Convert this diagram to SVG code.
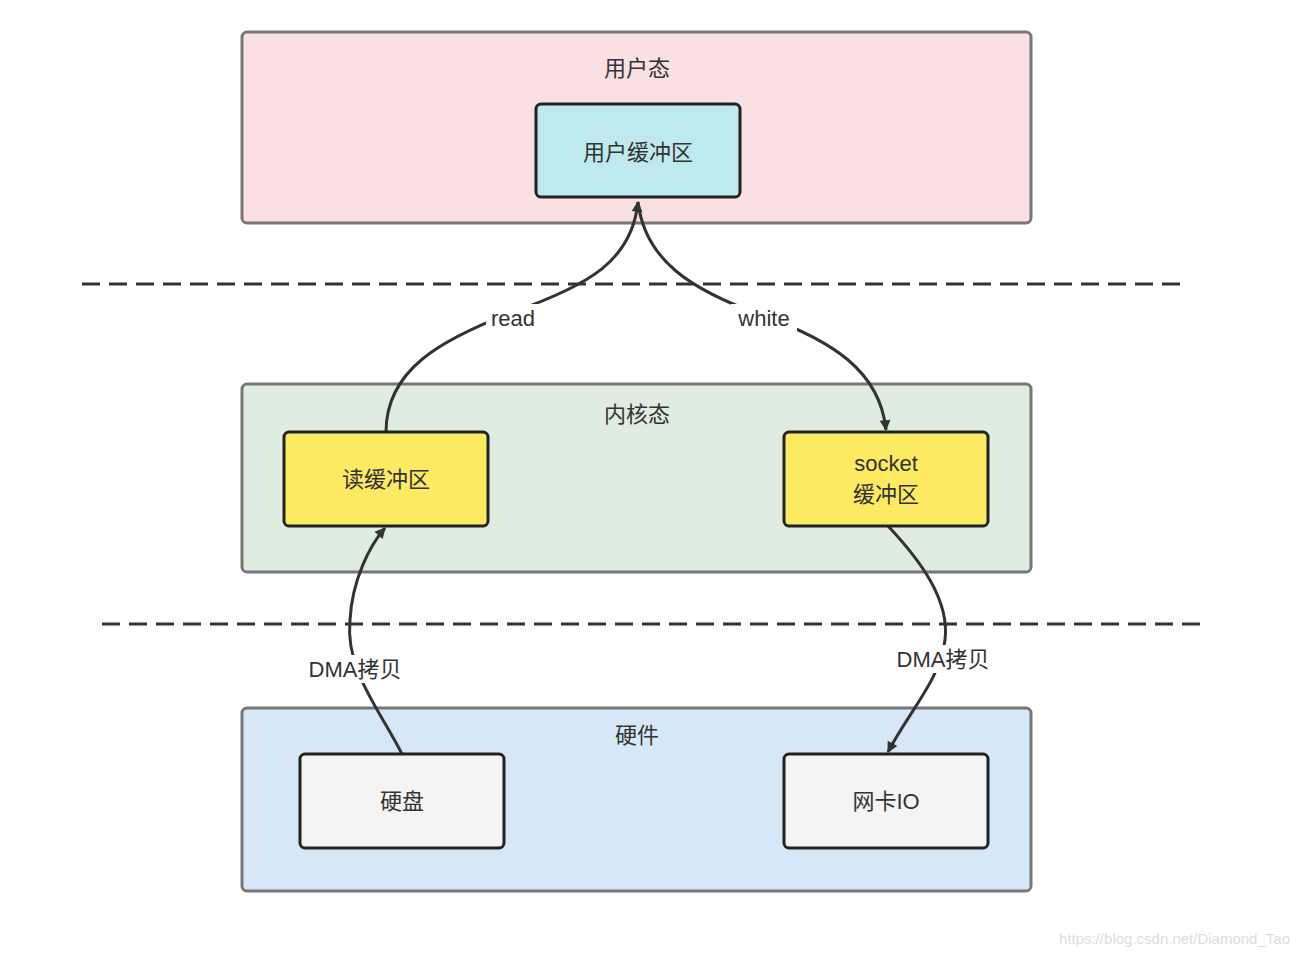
<svg xmlns="http://www.w3.org/2000/svg" width="1300" height="956" viewBox="0 0 1300 956">
<style>
text{font-family:"Liberation Sans","Noto Sans CJK SC",sans-serif;font-size:22px;fill:#333;text-anchor:middle;dominant-baseline:central}
.c{stroke:#777;stroke-width:3}
.n{stroke:#222;stroke-width:3}
.e{fill:none;stroke:#333;stroke-width:3}
.lb{fill:#fff}
</style>
<defs><marker id="a" viewBox="0 0 10 10" refX="9" refY="5" markerWidth="6" markerHeight="6" orient="auto" markerUnits="userSpaceOnUse" style="overflow:visible"><path d="M0,0 L10,5 L0,10 z" fill="#333" transform="scale(1.8) translate(-4,-2.2)"/></marker></defs>
<rect width="1300" height="956" fill="#fff"/>
<g id="user"><rect class="c" x="242" y="32" width="789" height="191" rx="5" fill="#fadfe3"/><text x="637" y="68">用户态</text></g>
<g id="kernel"><rect class="c" x="242" y="384" width="789" height="188" rx="5" fill="#dfede0"/><text x="637" y="414">内核态</text></g>
<g id="hw"><rect class="c" x="242" y="708" width="789" height="183" rx="5" fill="#d6e8f7"/><text x="637" y="735">硬件</text></g>
<g id="sep"><line x1="82" y1="284" x2="1185" y2="284" stroke="#333" stroke-width="3" stroke-dasharray="18,9"/><line x1="102" y1="624" x2="1205" y2="624" stroke="#333" stroke-width="3" stroke-dasharray="18,9"/></g>
<g id="connectors">
<path class="e" d="M386,432 C386,370 440,340 513,312 C590,285 632,260 638,202" marker-end="url(#a)"/>
<path class="e" d="M638,202 C645,260 690,290 764,316 C830,340 880,370 886,430" marker-end="url(#a)"/>
<path class="e" d="M402,754 C380,710 345,670 350,620 C352,580 370,545 385,528" marker-end="url(#a)"/>
<path class="e" d="M888,526 C920,560 950,600 945,640 C940,680 910,710 888,752" marker-end="url(#a)"/>
<rect class="lb" x="486" y="304" width="54" height="28"/><text x="513" y="318">read</text>
<rect class="lb" x="731" y="304" width="66" height="28"/><text x="764" y="318">white</text>
<rect class="lb" x="300" y="655" width="110" height="28"/><text x="355" y="669">DMA拷贝</text>
<rect class="lb" x="888" y="645" width="110" height="28"/><text x="943" y="659">DMA拷贝</text>
</g>
<g id="ubuf"><rect class="n" x="536" y="104" width="204" height="93" rx="5" fill="#bde9ef"/><text x="638" y="152">用户缓冲区</text></g>
<g id="rbuf"><rect class="n" x="284" y="432" width="204" height="94" rx="5" fill="#fde962"/><text x="386" y="479">读缓冲区</text></g>
<g id="sbuf"><rect class="n" x="784" y="432" width="204" height="94" rx="5" fill="#fde962"/><text x="886" y="463">socket</text><text x="886" y="494">缓冲区</text></g>
<g id="disk"><rect class="n" x="300" y="754" width="204" height="94" rx="5" fill="#f4f4f4"/><text x="402" y="801">硬盘</text></g>
<g id="nic"><rect class="n" x="784" y="754" width="204" height="94" rx="5" fill="#f4f4f4"/><text x="886" y="801">网卡IO</text></g>
<text x="1290" y="938" style="font-size:15px;fill:#ddd;text-anchor:end">https://blog.csdn.net/Diamond_Tao</text>
</svg>
